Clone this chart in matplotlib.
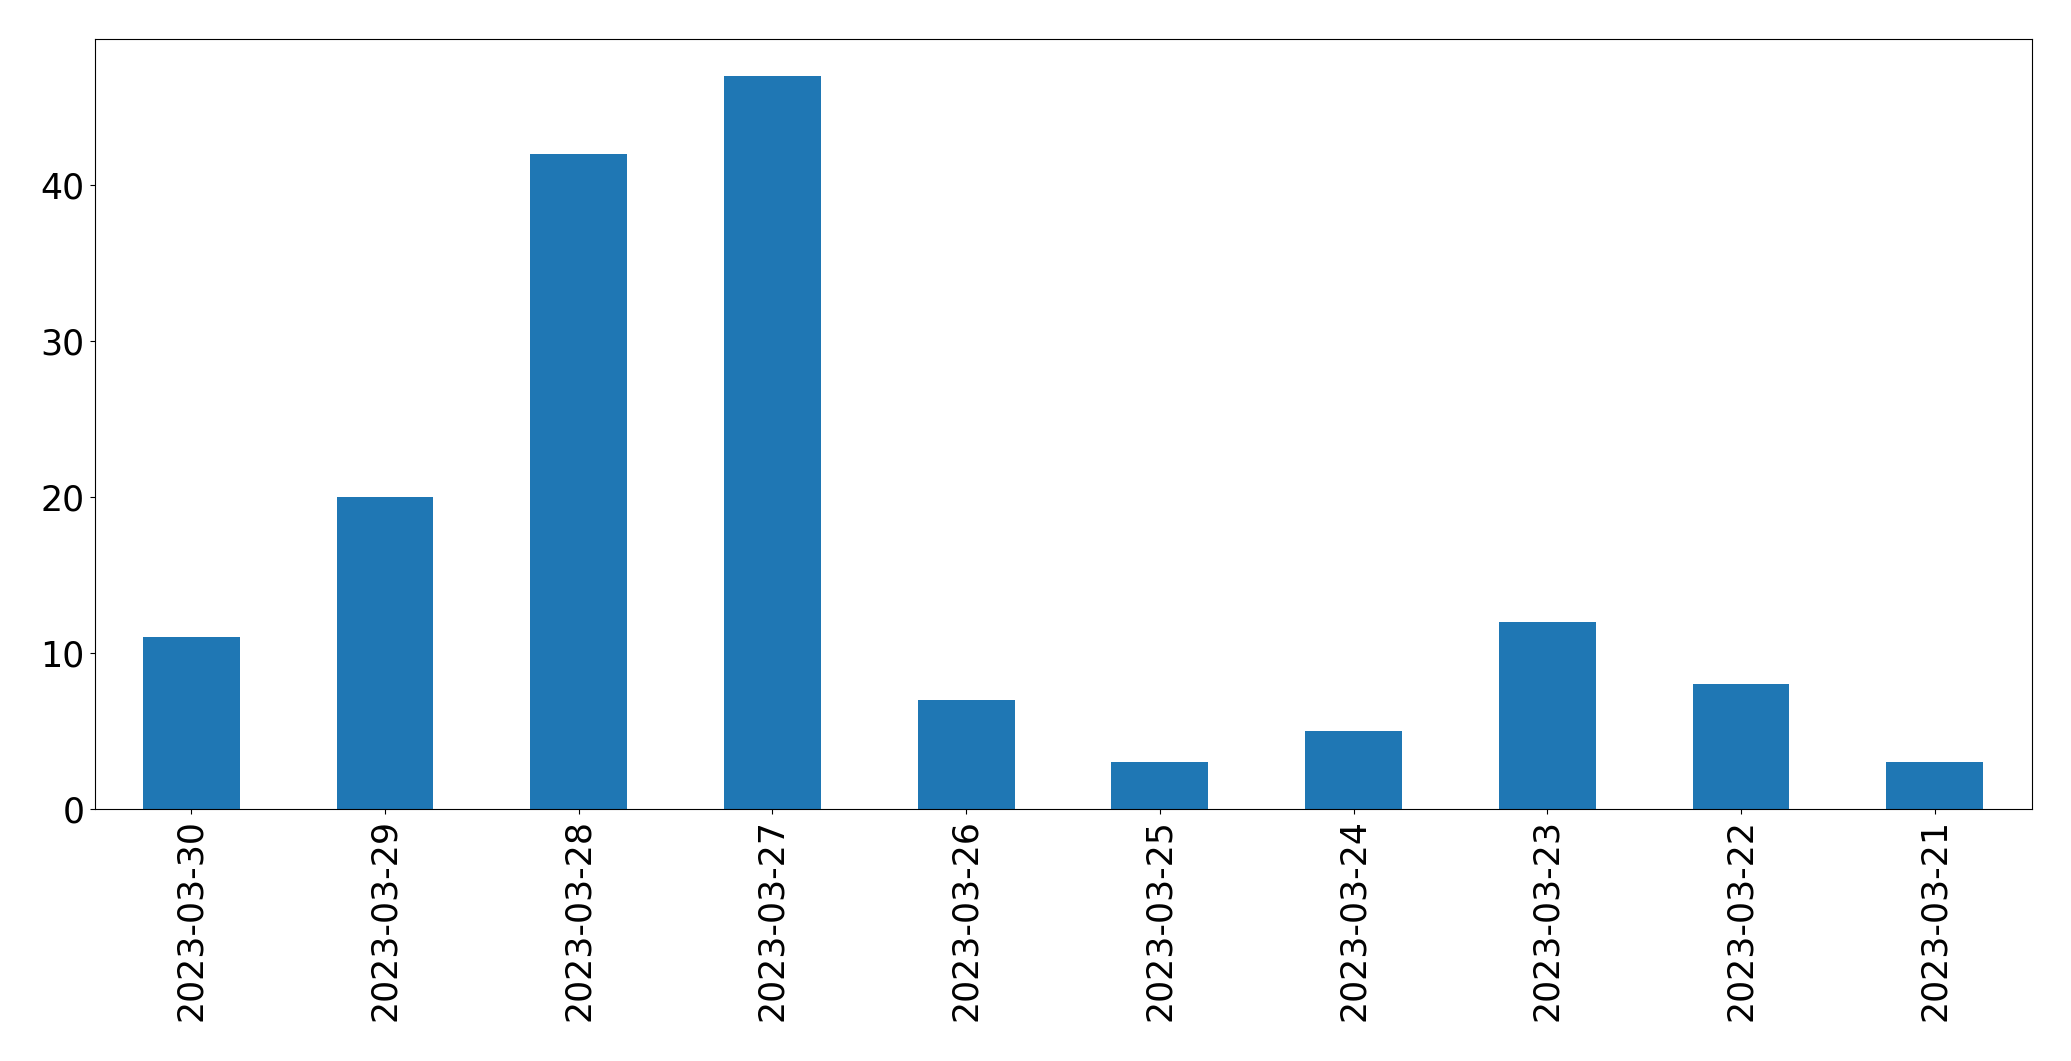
# Daily counts bar chart

from matplotlib import pyplot as plt

dates = [
    "2023-03-30", "2023-03-29", "2023-03-28", "2023-03-27", "2023-03-26",
    "2023-03-25", "2023-03-24", "2023-03-23", "2023-03-22", "2023-03-21",
]
counts = [11, 20, 42, 47, 7, 3, 5, 12, 8, 3]

# Create figure (2071 x 1061 px)
fig = plt.figure(figsize=(20.71, 10.61), dpi=100)
ax = fig.add_axes([94.5 / 2071, 1 - 809 / 1061, 1937 / 2071, 769.7 / 1061])

# Plot bars
positions = list(range(len(dates)))
ax.bar(positions, counts, width=0.5, color="#1f77b4")

# Axis formatting
ax.set_xlim(-0.5, len(dates) - 0.5)
ax.set_ylim(0, max(counts) * 1.05)
ax.set_xticks(positions)
ax.set_xticklabels(dates, rotation=90)
ax.tick_params(labelsize=25)

# Save plot
fig.savefig("out.png", dpi=100)
plt.close(fig)
